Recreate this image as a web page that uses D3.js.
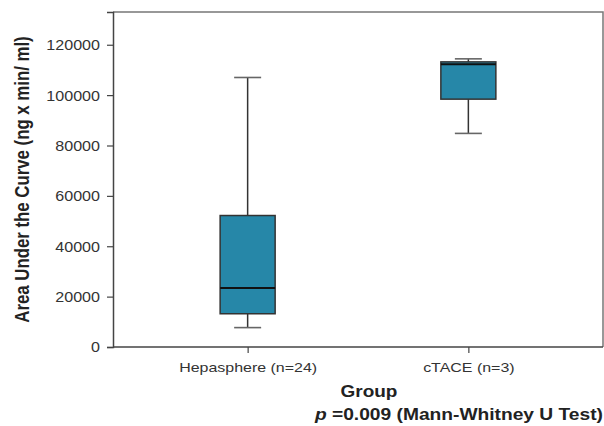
<!DOCTYPE html>
<html>
<head>
<meta charset="utf-8">
<script src="https://cdn.jsdelivr.net/npm/d3@7"></script>
<style>
  html, body { margin: 0; padding: 0; background: #fff; }
  svg { display: block; font-family: "Liberation Sans", Arial, sans-serif; }
</style>
</head>
<body>
<svg id="chart" width="604" height="426"></svg>
<script>
// ---- data ----
const categories = ["Hepasphere (n=24)", "cTACE (n=3)"];
const whiskerLow  = [7700, 84800];
const q1Values    = [13200, 98400];
const medians     = [23400, 112300];
const q3Values    = [52200, 113200];
const whiskerHigh = [107000, 114400];
const yTicks = [0, 20000, 40000, 60000, 80000, 100000, 120000];
const yMax = 133000;
const yTitle = "Area Under the Curve (ng x min/ ml)";
const xTitle = "Group";
const pValueLabel = "=0.009 (Mann-Whitney U Test)";

const boxes = categories.map((c, i) => ({
  cat: c, lo: whiskerLow[i], q1: q1Values[i], med: medians[i], q3: q3Values[i], hi: whiskerHigh[i]
}));

// ---- layout ----
const svg = d3.select("#chart");
const mL = 113, mR = 603, mT = 12, mB = 347;
const x = d3.scalePoint().domain(categories).range([mL, mR]).padding(0.61);
const y = d3.scaleLinear().domain([0, yMax]).range([mB, mT]);
const boxW = 55, capW = 27;
const SX = 1.15;

// frame (top/right)
svg.append("path")
  .attr("d", `M${mL},${mT}H${mR}V${mB}`)
  .attr("fill", "none").attr("stroke", "#777").attr("stroke-width", 1.5);

// y axis
const yAxis = svg.append("g").attr("transform", `translate(${mL},0)`)
  .call(d3.axisLeft(y).tickValues(yTicks).tickSize(6).tickPadding(6).tickFormat(d3.format("d")));
yAxis.select(".domain").attr("stroke", "#444").attr("stroke-width", 1.5);
yAxis.selectAll(".tick line").attr("stroke", "#444").attr("stroke-width", 1.2);
yAxis.selectAll(".tick text")
  .attr("fill", "#333").attr("font-size", 14).attr("font-family", "Liberation Sans, Arial, sans-serif")
  .attr("x", null).attr("dy", "0.35em")
  .attr("transform", `translate(-13,0) scale(${SX},1)`);

// x axis
const xAxis = svg.append("g").attr("transform", `translate(0,${mB})`)
  .call(d3.axisBottom(x).tickSize(6).tickPadding(8));
xAxis.select(".domain").attr("stroke", "#444").attr("stroke-width", 1.5).attr("d", `M${mL},0H${mR}`);
xAxis.selectAll(".tick line").attr("stroke", "#444").attr("stroke-width", 1.2);
xAxis.selectAll(".tick text")
  .attr("fill", "#333").attr("font-size", 13.3).attr("font-family", "Liberation Sans, Arial, sans-serif")
  .attr("y", null).attr("dy", null)
  .attr("transform", `translate(0,24.5) scale(${1.2},1)`);

// boxes
const g = svg.append("g");
const bx = g.selectAll("g.box").data(boxes).join("g").attr("class", "box");
// whisker stems
bx.append("line")
  .attr("x1", d => x(d.cat)).attr("x2", d => x(d.cat))
  .attr("y1", d => y(d.hi)).attr("y2", d => y(d.q3))
  .attr("stroke", "#333").attr("stroke-width", 1.5);
bx.append("line")
  .attr("x1", d => x(d.cat)).attr("x2", d => x(d.cat))
  .attr("y1", d => y(d.q1)).attr("y2", d => y(d.lo))
  .attr("stroke", "#333").attr("stroke-width", 1.5);
// caps
bx.append("line")
  .attr("x1", d => x(d.cat) - capW / 2).attr("x2", d => x(d.cat) + capW / 2)
  .attr("y1", d => y(d.hi)).attr("y2", d => y(d.hi))
  .attr("stroke", "#666").attr("stroke-width", 1.6);
bx.append("line")
  .attr("x1", d => x(d.cat) - capW / 2).attr("x2", d => x(d.cat) + capW / 2)
  .attr("y1", d => y(d.lo)).attr("y2", d => y(d.lo))
  .attr("stroke", "#666").attr("stroke-width", 1.6);
// box
bx.append("rect")
  .attr("x", d => x(d.cat) - boxW / 2).attr("width", boxW)
  .attr("y", d => y(d.q3)).attr("height", d => y(d.q1) - y(d.q3))
  .attr("fill", "#2687a8").attr("stroke", "#333").attr("stroke-width", 1.5);
// median
bx.append("line")
  .attr("x1", d => x(d.cat) - boxW / 2).attr("x2", d => x(d.cat) + boxW / 2)
  .attr("y1", d => y(d.med)).attr("y2", d => y(d.med))
  .attr("stroke", "#111").attr("stroke-width", 2);

// y title
svg.append("text")
  .attr("transform", `translate(29,${(mT + mB) / 2}) rotate(-90) scale(1,1.15)`)
  .attr("text-anchor", "middle")
  .attr("font-size", 16.8).attr("font-weight", "bold").attr("fill", "#222")
  .text(yTitle);

// x title
svg.append("text")
  .attr("transform", `translate(369,396.5) scale(${SX},1)`)
  .attr("text-anchor", "middle")
  .attr("font-size", 16.5).attr("font-weight", "bold").attr("fill", "#222")
  .text(xTitle);

// p value
const pt = svg.append("text")
  .attr("transform", `translate(603,420) scale(${SX},1)`)
  .attr("text-anchor", "end")
  .attr("font-size", 16.7).attr("font-weight", "bold").attr("fill", "#222");
pt.append("tspan").attr("font-style", "italic").text("p ");
pt.append("tspan").text(pValueLabel);
</script>
</body>
</html>
